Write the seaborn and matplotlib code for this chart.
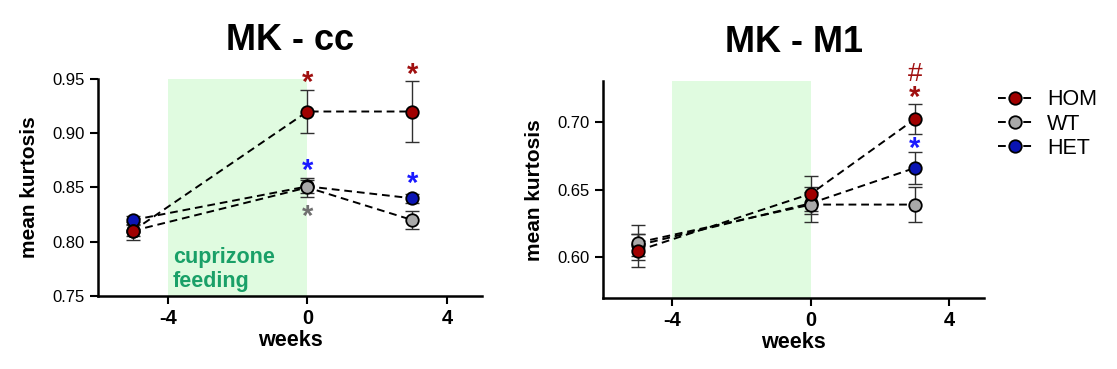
import numpy as np
import matplotlib.pyplot as plt
import pandas as pd
import seaborn as sns

# data
weeks = [-5, 0, 3]
groups = ['HOM', 'WT', 'HET']
colors = {'HOM': '#a00000', 'WT': '#a9a9a9', 'HET': '#0a14b4'}

# MK - cc
cc_mean = {'HOM': [0.810, 0.920, 0.920],
           'WT': [0.810, 0.850, 0.820],
           'HET': [0.820, 0.851, 0.840]}
cc_err = {'HOM': [0.008, 0.020, 0.028],
          'WT': [0.005, 0.009, 0.008],
          'HET': [0.004, 0.006, 0.004]}

# MK - M1
m1_mean = {'HOM': [0.605, 0.647, 0.702],
           'WT': [0.611, 0.639, 0.639],
           'HET': [0.609, 0.640, 0.666]}
m1_err = {'HOM': [0.012, 0.013, 0.011],
          'WT': [0.013, 0.013, 0.013],
          'HET': [0.008, 0.008, 0.012]}

# significance marks: (x, y, text, colour)
cc_marks = [(0, 0.946, '*', '#a01010'), (3, 0.954, '*', '#a01010'),
            (0, 0.865, '*', '#1a1aff'), (3, 0.853, '*', '#1a1aff'),
            (0, 0.823, '*', '#707070')]
m1_marks = [(3, 0.7355, '#', '#a01010'), (3, 0.718, '*', '#a01010'),
            (3, 0.680, '*', '#1a1aff')]

sns.set_style('ticks')
plt.rcParams['font.family'] = ['Liberation Sans', 'DejaVu Sans']
plt.rcParams['text.color'] = 'black'
plt.rcParams['axes.labelcolor'] = 'black'

fig = plt.figure(figsize=(11.17, 3.69), dpi=100)
ax1 = fig.add_axes([0.0877, 0.198, 0.3438, 0.588])
ax2 = fig.add_axes([0.540, 0.192, 0.341, 0.588])


def panel(ax, means, errs, marks, ylim, yticks, title):
    ax.axvspan(-4, 0, color='#e0fbe0', zorder=0, lw=0)
    for g in ['HET', 'WT', 'HOM']:
        ax.errorbar(weeks, means[g], yerr=errs[g], fmt='none', ecolor='#303030',
                    elinewidth=1.0, capsize=5, capthick=1.0, zorder=2)
        sns.lineplot(x=weeks, y=means[g], ax=ax, color='black', linestyle=(0, (4, 2.5)),
                     linewidth=1.4, marker='o', markersize=9, markerfacecolor=colors[g],
                     markeredgecolor='black', markeredgewidth=1.3, zorder=3, label=g)
    for x, y, t, c in marks:
        ax.text(x, y, t, color=c, ha='center', va='center',
                fontsize=21 if t == '*' else 19, fontweight='bold' if t == '*' else 'normal')
    ax.set_xlim(-6, 5)
    ax.set_ylim(*ylim)
    ax.set_xticks([-4, 0, 4])
    ax.set_xticklabels(['-4', '0', '4'], fontsize=14.5, fontweight='bold')
    ax.set_yticks(yticks)
    ax.set_yticklabels(['%.2f' % v for v in yticks], fontsize=12)
    ax.set_xlabel('weeks', fontsize=15.5, fontweight='bold', labelpad=1)
    ax.set_ylabel('mean kurtosis', fontsize=15, fontweight='bold', labelpad=10)
    ax.set_title(title, fontsize=26, fontweight='bold', pad=21, color='black')
    ax.tick_params(axis='both', direction='out', length=6, width=1.5, colors='black')
    for s in ['left', 'bottom']:
        ax.spines[s].set_linewidth(1.8)
        ax.spines[s].set_color('black')
    sns.despine(ax=ax)
    ax.get_legend().remove()


panel(ax1, cc_mean, cc_err, cc_marks, (0.75, 0.95),
      [0.75, 0.80, 0.85, 0.90, 0.95], 'MK - cc')
ax1.text(-3.86, 0.7804, 'cuprizone', color='#1aa068', fontsize=15.5,
         fontweight='bold', ha='left', va='baseline')
ax1.text(-3.86, 0.7583, 'feeding', color='#1aa068', fontsize=15.5,
         fontweight='bold', ha='left', va='baseline')

panel(ax2, m1_mean, m1_err, m1_marks, (0.57, 0.73),
      [0.60, 0.65, 0.70], 'MK - M1')

handles, labels = ax2.get_legend_handles_labels()
order = [labels.index(g) for g in groups]
fig.legend([handles[i] for i in order], groups, loc='upper left',
           bbox_to_anchor=(0.876, 0.81), frameon=False, fontsize=15.5,
           handlelength=1.6, handletextpad=0.7, labelspacing=0.15)

fig.savefig('out.png', dpi=100)
